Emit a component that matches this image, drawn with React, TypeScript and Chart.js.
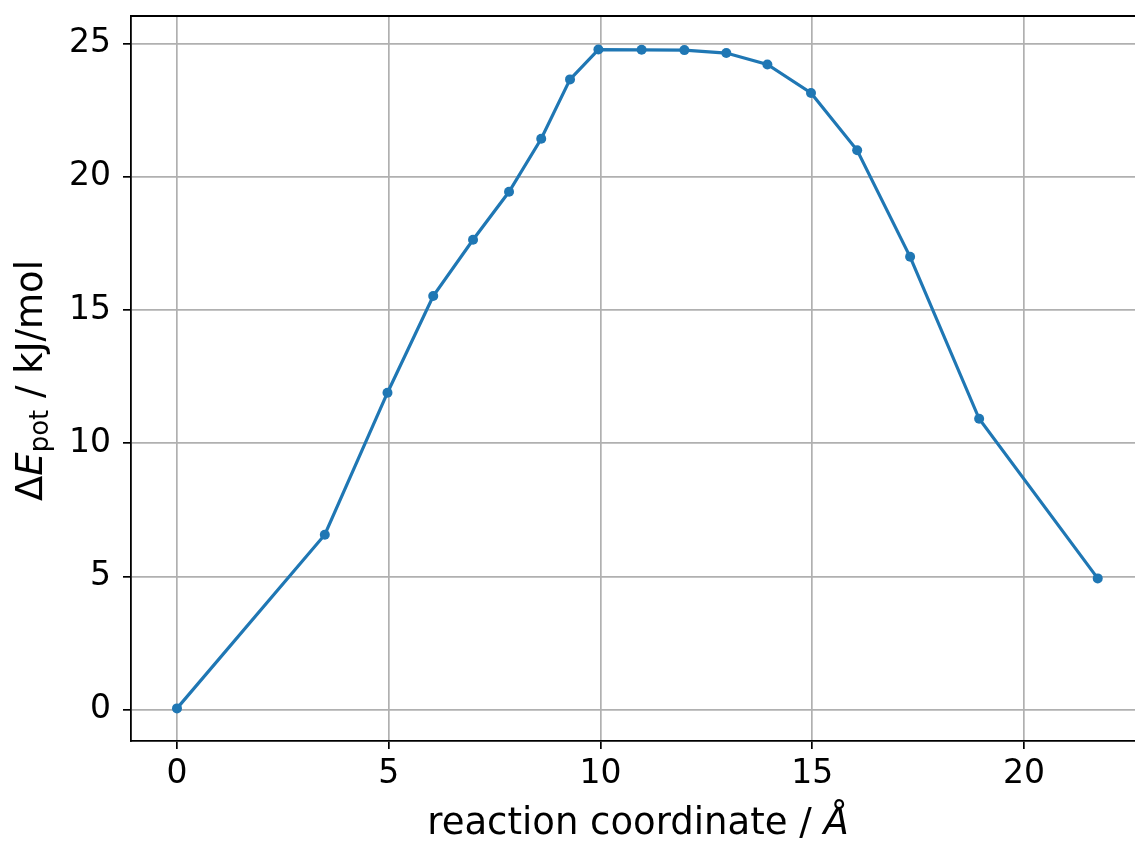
import React, { useEffect, useRef } from "react";
import { Chart, registerables } from "chart.js";

Chart.register(...registerables);

const reactionCoordinate = [0, 3.49, 4.97, 6.05, 6.99, 7.84, 8.6, 9.28, 9.95, 10.97, 11.98, 12.97, 13.94, 14.97, 16.06, 17.31, 18.94, 21.74];
const deltaEpot = [0.05, 6.57, 11.9, 15.53, 17.64, 19.44, 21.43, 23.66, 24.78, 24.77, 24.76, 24.65, 24.22, 23.15, 21.0, 17.0, 10.92, 4.93];
const xTickValues = [0, 5, 10, 15, 20];
const yTickValues = [0, 5, 10, 15, 20, 25];

const FONT = '"DejaVu Sans", sans-serif';
const TICK_SIZE = 33;
const LABEL_SIZE = 37;

const labelPlugin = {
  id: "mplLabels",
  afterDraw(chart: any) {
    const ctx: CanvasRenderingContext2D = chart.ctx;
    const area = chart.chartArea;
    ctx.save();
    // top spine
    ctx.strokeStyle = "#000";
    ctx.lineWidth = 1.8;
    ctx.beginPath();
    ctx.moveTo(area.left - 0.9, area.top);
    ctx.lineTo(area.right, area.top);
    ctx.stroke();

    ctx.fillStyle = "#000";
    ctx.textBaseline = "alphabetic";
    ctx.textAlign = "left";

    const drawSegs = (segs: any[], cx: number, baseY: number) => {
      let total = 0;
      for (const s of segs) {
        ctx.font = s.f;
        total += ctx.measureText(s.t).width;
      }
      let x = cx - total / 2;
      for (const s of segs) {
        ctx.font = s.f;
        ctx.fillText(s.t, x, baseY + s.dy);
        x += ctx.measureText(s.t).width;
      }
    };

    // x label
    const xSegs = [
      { t: "reaction coordinate / ", f: `${LABEL_SIZE}px ${FONT}`, dy: 0 },
      { t: "Å", f: `italic ${LABEL_SIZE}px ${FONT}`, dy: 0 },
    ];
    drawSegs(xSegs, 638, 834);

    // y label (rotated)
    const ySegs = [
      { t: "Δ", f: `${LABEL_SIZE}px ${FONT}`, dy: 0 },
      { t: "E", f: `italic ${LABEL_SIZE}px ${FONT}`, dy: 0 },
      { t: "pot", f: `${Math.round(LABEL_SIZE * 0.7)}px ${FONT}`, dy: 6 },
      { t: " / kJ/mol", f: `${LABEL_SIZE}px ${FONT}`, dy: 0 },
    ];
    ctx.translate(42, (area.top + area.bottom) / 2 + 2);
    ctx.rotate(-Math.PI / 2);
    drawSegs(ySegs, 0, 0);
    ctx.restore();
  },
};

export default function App() {
  const ref = useRef<HTMLCanvasElement>(null);
  useEffect(() => {
    document.body.style.margin = "0";
    document.body.style.overflow = "hidden";
    const chart = new Chart(ref.current!, {
      type: "line",
      data: {
        datasets: [
          {
            data: reactionCoordinate.map((x, i) => ({ x, y: deltaEpot[i] })),
            borderColor: "#1f77b4",
            backgroundColor: "#1f77b4",
            borderWidth: 3.2,
            pointRadius: 5,
            pointBorderWidth: 0,
            pointHoverRadius: 5,
            tension: 0,
          },
        ],
      },
      options: {
        responsive: false,
        animation: false,
        events: [],
        layout: { autoPadding: false, padding: { top: 16, right: 0, left: 0, bottom: 0 } },
        plugins: { legend: { display: false }, tooltip: { enabled: false } },
        scales: {
          x: {
            type: "linear",
            min: -1.086,
            max: 22.62,
            afterBuildTicks: (s: any) => {
              s.ticks = xTickValues.map((v) => ({ value: v }));
            },
            afterFit: (s: any) => {
              s.height = 100;
              s.paddingLeft = 0;
              s.paddingRight = 0;
              s.paddingTop = 0;
              s.paddingBottom = 0;
            },
            grid: {
              color: "#b0b0b0",
              lineWidth: 1.7,
              drawTicks: true,
              tickLength: 8,
              tickColor: "#000",
              tickWidth: 1.7,
            },
            border: { display: true, color: "#000", width: 1.8 },
            ticks: {
              color: "#000",
              font: { family: FONT, size: TICK_SIZE },
              padding: 6,
              maxRotation: 0,
              autoSkip: false,
            },
          },
          y: {
            type: "linear",
            min: -1.174,
            max: 26.04,
            afterBuildTicks: (s: any) => {
              s.ticks = yTickValues.map((v) => ({ value: v }));
            },
            afterFit: (s: any) => {
              s.width = 131;
              s.paddingLeft = 0;
              s.paddingRight = 0;
              s.paddingTop = 0;
              s.paddingBottom = 0;
            },
            grid: {
              color: "#b0b0b0",
              lineWidth: 1.7,
              drawTicks: true,
              tickLength: 8,
              tickColor: "#000",
              tickWidth: 1.7,
            },
            border: { display: true, color: "#000", width: 1.8 },
            ticks: {
              color: "#000",
              font: { family: FONT, size: TICK_SIZE },
              padding: 12,
              autoSkip: false,
            },
          },
        },
      },
      plugins: [labelPlugin],
    });
    return () => chart.destroy();
  }, []);
  return (
    <div style={{ width: 1135, height: 841 }}>
      <canvas ref={ref} width={1135} height={841} style={{ display: "block" }} />
    </div>
  );
}
